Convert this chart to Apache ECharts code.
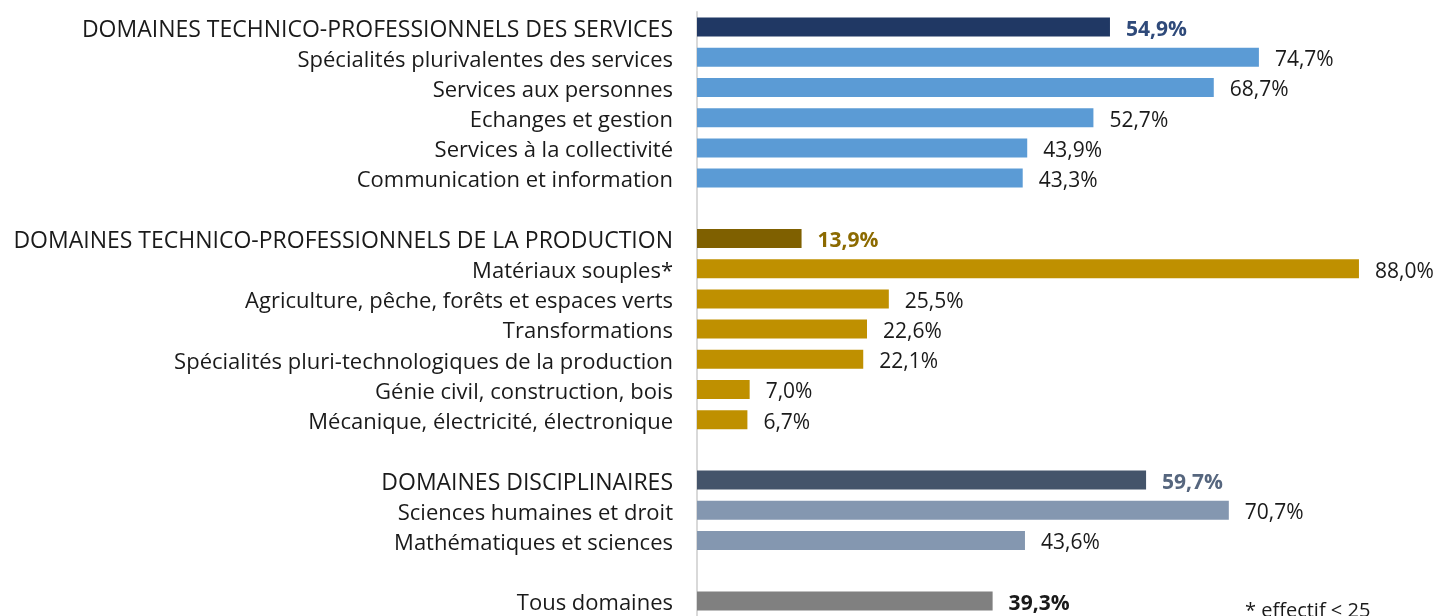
<!DOCTYPE html>
<html>
<head>
<meta charset="utf-8">
<script src="https://cdn.jsdelivr.net/npm/echarts@6/dist/echarts.min.js"></script>
<style>
  html, body { margin: 0; padding: 0; background: #fff; }
  #chart { width: 1438px; height: 616px; }
</style>
</head>
<body>
<div id="chart"></div>
<script>
// categories, '' = empty spacer row between groups
var categories = [
  'DOMAINES TECHNICO-PROFESSIONNELS DES SERVICES',
  'Spécialités plurivalentes des services',
  'Services aux personnes',
  'Echanges et gestion',
  'Services à la collectivité',
  'Communication et information',
  '',
  'DOMAINES TECHNICO-PROFESSIONNELS DE LA PRODUCTION',
  'Matériaux souples*',
  'Agriculture, pêche, forêts et espaces verts',
  'Transformations',
  'Spécialités pluri-technologiques de la production',
  'Génie civil, construction, bois',
  'Mécanique, électricité, électronique',
  '',
  'DOMAINES DISCIPLINAIRES',
  'Sciences humaines et droit',
  'Mathématiques et sciences',
  '',
  'Tous domaines'
]
var values = [54.9, 74.7, 68.7, 52.7, 43.9, 43.3, null,
  13.9, 88.0, 25.5, 22.6, 22.1, 7.0, 6.7, null,
  59.7, 70.7, 43.6, null,
  39.3]
// group of each row: s = services, p = production, d = disciplinaires, t = total
var groups = ['s','s','s','s','s','s','',
  'p','p','p','p','p','p','p','',
  'd','d','d','',
  't']
var headers = [0, 7, 15, 19]
var footnote = '* effectif < 25'

var palette = {
  s: { head: '#203864', sub: '#5B9BD5', text: '#2F4A7A' },
  p: { head: '#7F6000', sub: '#BF9000', text: '#8C6A00' },
  d: { head: '#44546A', sub: '#8497B0', text: '#56667E' },
  t: { head: '#808080', sub: '#808080', text: '#1a1a1a' }
}
var font = '"Open Sans", "Noto Sans", sans-serif'

var chart = echarts.init(document.getElementById('chart'))

var seriesData = values.map(function (v, i) {
  if (v === null) return { value: '-' }
  var g = palette[groups[i]]
  var isHead = headers.indexOf(i) >= 0
  return {
    value: v,
    itemStyle: { color: isHead ? g.head : g.sub },
    label: isHead ? { fontWeight: 'bold', color: g.text } : {}
  }
})

chart.setOption({
  animation: false,
  grid: { left: 697, top: 12, width: 677, height: 607 },
  xAxis: {
    type: 'value',
    min: 0,
    max: 90,
    show: false
  },
  yAxis: {
    type: 'category',
    inverse: true,
    data: categories,
    axisLine: { show: true, lineStyle: { color: '#d9d9d9', width: 2 } },
    axisTick: { show: false },
    axisLabel: {
      margin: 24,
      color: '#1a1a1a',
      fontFamily: font,
      formatter: function (val, idx) {
        // upper-case group titles get a slightly bigger size
        return headers.indexOf(idx) >= 0 && idx !== 19 ? '{h|' + val + '}' : '{n|' + val + '}'
      },
      rich: {
        h: { fontSize: 23, fontFamily: font, color: '#1a1a1a', padding: [6, 0, 0, 0] },
        n: { fontSize: 22, fontFamily: font, color: '#1a1a1a', padding: [6, 0, 0, 0] }
      }
    }
  },
  series: [{
    type: 'bar',
    barWidth: 19,
    data: seriesData,
    label: {
      show: true,
      position: 'right',
      distance: 16,
      offset: [0, 3],
      fontSize: 21,
      fontFamily: font,
      color: '#1a1a1a',
      formatter: function (p) {
        return p.value.toFixed(1).replace('.', ',') + '%'
      }
    }
  }],
  graphic: [{
    type: 'text',
    left: 1245,
    top: 601,
    style: { text: footnote, fontSize: 20, fontFamily: font, fill: '#1a1a1a' }
  }]
})
</script>
</body>
</html>
